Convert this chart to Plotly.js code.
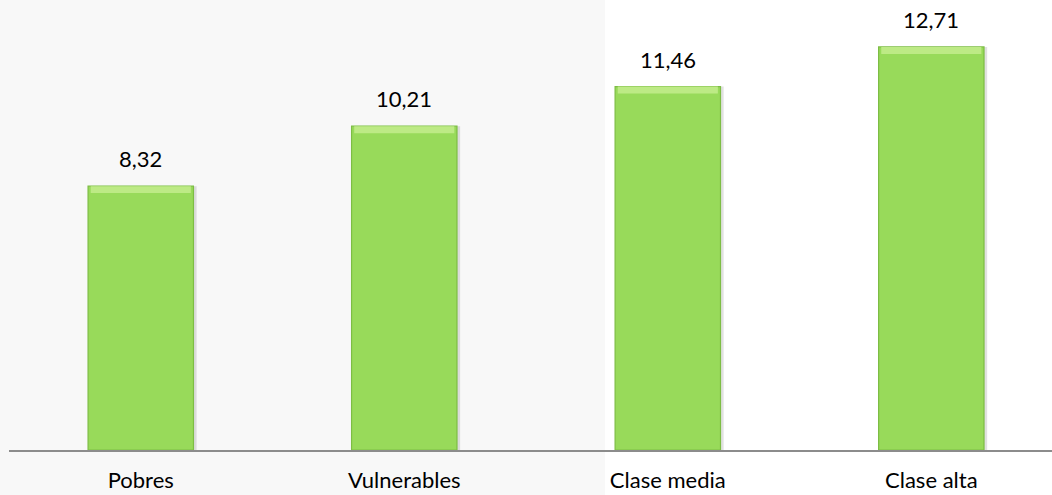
<!DOCTYPE html>
<html>
<head>
<meta charset="utf-8">
<script src="https://cdn.plot.ly/plotly-3.0.1.min.js"></script>
<style>
  html, body { margin:0; padding:0; }
  body { width:1052px; height:495px; background: linear-gradient(to right, #f8f8f8 0px, #f8f8f8 605px, #ffffff 605px); }
  #chart { width:1052px; height:495px; }
</style>
</head>
<body>
<div id="chart"></div>
<script>
const categories = ["Pobres", "Vulnerables", "Clase media", "Clase alta"];
const values = [8.32, 10.21, 11.46, 12.71];
const valueLabels = ["8,32", "10,21", "11,46", "12,71"];

const font = "Lato, 'Open Sans', sans-serif";
const bevel = 0.22;

const traces = [
  {
    type: "bar",
    x: categories,
    y: values,
    width: 0.4,
    offset: -0.2 + 0.012,
    marker: { color: "rgba(120,120,120,0.22)", line: { width: 0 } },
    hoverinfo: "skip",
    showlegend: false
  },
  {
    type: "bar",
    x: categories,
    y: values,
    width: 0.4,
    offset: -0.2,
    marker: { color: "#98da5a", line: { color: "#7dbd44", width: 1.2 } },
    showlegend: false
  },
  {
    type: "bar",
    x: categories,
    y: values.map(() => bevel),
    base: values.map(v => v - bevel),
    width: 0.38,
    offset: -0.19,
    marker: { color: "#bdea85", line: { width: 0 } },
    hoverinfo: "skip",
    showlegend: false
  }
];

const annotations = categories.map((c, i) => ({
  x: c, y: values[i], xref: "x", yref: "y",
  text: valueLabels[i], showarrow: false,
  yanchor: "bottom", yshift: 12,
  font: { family: font, size: 22, color: "#000" }
}));

const layout = {
  width: 1052, height: 495,
  margin: { l: 9, r: 0, t: 6, b: 45 },
  paper_bgcolor: "rgba(0,0,0,0)",
  plot_bgcolor: "rgba(0,0,0,0)",
  barmode: "overlay",
  xaxis: {
    type: "category",
    range: [-0.5, 3.458],
    showline: true, linecolor: "#8c8c8c", linewidth: 2,
    ticks: "", showgrid: false, zeroline: false,
    tickfont: { family: font, size: 22, color: "#000" },
    ticklabelstandoff: 10
  },
  yaxis: {
    range: [0, 14],
    visible: false, showgrid: false, zeroline: false
  },
  annotations: annotations,
  font: { family: font }
};

Plotly.newPlot("chart", traces, layout, { staticPlot: true, displayModeBar: false });
</script>
</body>
</html>
